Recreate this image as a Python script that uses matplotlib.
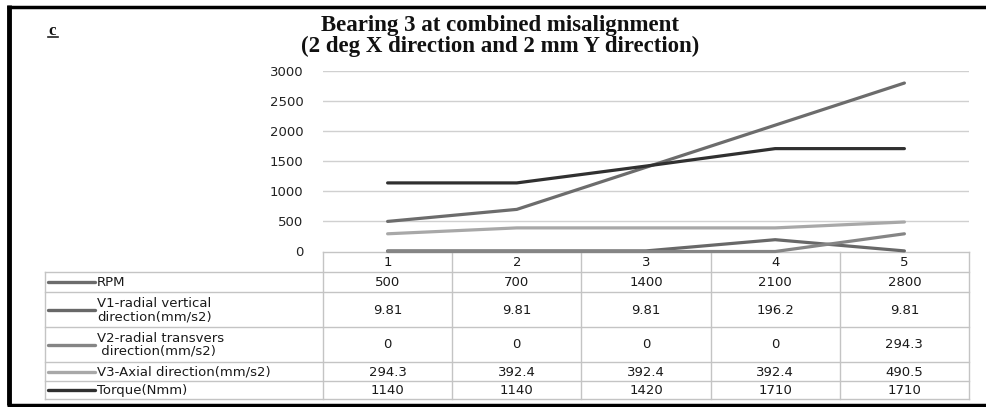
import matplotlib
matplotlib.use("Agg")
import matplotlib.pyplot as plt
from matplotlib.transforms import blended_transform_factory

# ---- data ----
categories = [1, 2, 3, 4, 5]
rpm = [500, 700, 1400, 2100, 2800]
v1_radial_vertical = [9.81, 9.81, 9.81, 196.2, 9.81]
v2_radial_transvers = [0, 0, 0, 0, 294.3]
v3_axial = [294.3, 392.4, 392.4, 392.4, 490.5]
torque = [1140, 1140, 1420, 1710, 1710]

series_names = [
    "RPM",
    "V1-radial vertical\ndirection(mm/s2)",
    "V2-radial transvers\n direction(mm/s2)",
    "V3-Axial direction(mm/s2)",
    "Torque(Nmm)",
]
series_values = [rpm, v1_radial_vertical, v2_radial_transvers, v3_axial, torque]
series_colors = ["#6c6c6c", "#686868", "#858585", "#a8a8a8", "#303030"]
y_ticks = [0, 500, 1000, 1500, 2000, 2500, 3000]
title = "Bearing 3 at combined misalignment\n(2 deg X direction and 2 mm Y direction)"

# ---- figure ----
W, H = 986, 407
fig = plt.figure(figsize=(W / 100, H / 100), dpi=100)
fig.patch.set_facecolor("white")


def fx(px):
    return px / W


def fy(py):
    return 1 - py / H


# overlay in pixel coordinates for the frame and the data table
tab = fig.add_axes([0, 0, 1, 1], zorder=0)
tab.set_xlim(0, W)
tab.set_ylim(H, 0)
tab.axis("off")

# plot area
ax = fig.add_axes([fx(323), fy(251.5), fx(969) - fx(323), fy(71) - fy(251.5)], zorder=2)
ax.set_facecolor("none")
ax.set_xlim(0.5, 5.5)
ax.set_ylim(0, 3000)
for s in ax.spines.values():
    s.set_visible(False)
ax.set_xticks([])
ax.set_yticks(y_ticks)
ax.tick_params(axis="y", length=0, pad=14, labelsize=9.5, labelcolor="#222222")
for t in y_ticks[1:]:
    ax.axhline(t, color="#d0d0d0", lw=1.0, zorder=0)

for vals, color in zip(series_values, series_colors):
    ax.plot(categories, vals, color=color, lw=2.3, solid_capstyle="round",
            solid_joinstyle="round", clip_on=False, zorder=3)

# ---- data table ----
grid_c = "#c4c4c4"
trans = blended_transform_factory(ax.transData, tab.transData)
row_edges = [252, 272, 292, 327, 362, 381, 399]
left_x = 45
xmin, xmax = 0.5, 5.5

# header row border (category numbers)
tab.plot([xmin, xmax], [row_edges[0]] * 2, color=grid_c, lw=1, transform=trans)
# horizontal rules spanning the legend column and the value columns
for y in row_edges[1:]:
    tab.plot([left_x, 969], [y, y], color=grid_c, lw=1)
tab.plot([left_x, left_x], [row_edges[1], row_edges[-1]], color=grid_c, lw=1)
for b in [0.5, 1.5, 2.5, 3.5, 4.5, 5.5]:
    tab.plot([b, b], [row_edges[0], row_edges[-1]], color=grid_c, lw=1, transform=trans)

txt_kw = dict(fontsize=9.5, color="#1a1a1a", family="DejaVu Sans")
hy = (row_edges[0] + row_edges[1]) / 2
for c in categories:
    tab.text(c, hy + 1, str(c), ha="center", va="center", transform=trans, **txt_kw)

for i, (name, vals, color) in enumerate(zip(series_names, series_values, series_colors)):
    yc = (row_edges[i + 1] + row_edges[i + 2]) / 2
    tab.plot([48, 95], [yc, yc], color=color, lw=2.4, solid_capstyle="round")
    tab.text(97, yc + 0.5, name, ha="left", va="center", linespacing=1.0, **txt_kw)
    for c, v in zip(categories, vals):
        tab.text(c, yc + 0.5, f"{v:g}", ha="center", va="center", transform=trans, **txt_kw)

# ---- frame ----
tab.plot([9, 9], [5, 405], color="black", lw=3.5, solid_capstyle="butt")
tab.plot([7, W], [6.5, 6.5], color="black", lw=2.5, solid_capstyle="butt")
tab.plot([7, W], [404.5, 404.5], color="black", lw=2.5, solid_capstyle="butt")

# panel label
tab.text(52.5, 31, "c", ha="center", va="center", fontsize=12, fontweight="bold",
         family="Liberation Serif", color="#111111")
tab.plot([48, 58], [36.5, 36.5], color="#222222", lw=1.2)

# title
tab.text(500, 36, title, ha="center", va="center", fontsize=16.5, fontweight="bold",
         family="Liberation Serif", linespacing=0.95, color="#111111")

fig.savefig("out.png", dpi=100, facecolor="white")
